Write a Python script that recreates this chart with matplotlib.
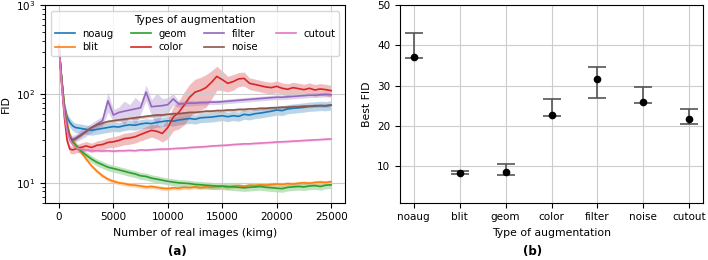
import numpy as np
import matplotlib
matplotlib.use('Agg')
import matplotlib.pyplot as plt

plt.rcParams['font.size'] = 7.5

# training progress (kimg) at which FID was evaluated
kimg = [0, 250, 500, 750, 1000, 1250, 1500, 2000, 2500, 3000, 3500, 4000, 4500,
        5000, 5500, 6000, 6500, 7000, 7500, 8000, 8500, 9000, 9500, 10000,
        10500, 11000, 11500, 12000, 12500, 13000, 13500, 14000, 14500, 15000,
        15500, 16000, 16500, 17000, 17500, 18000, 18500, 19000, 19500, 20000,
        20500, 21000, 21500, 22000, 22500, 23000, 23500, 24000, 24500, 25000]

fid_noaug = [350, 150, 75, 55, 48, 44, 42, 41, 40, 39, 40, 41, 42, 43, 42.5, 44,
             45, 44.5, 46, 47, 46.5, 48, 49, 50, 49.5, 51, 52, 53, 52, 54, 54.5,
             55, 56, 57, 55.5, 57, 56, 59, 58, 60, 61, 62.5, 64, 66, 65, 68, 69,
             70, 71, 72.5, 73, 74, 73.5, 75]
fid_blit = [350, 150, 75, 48, 35, 30, 27, 22.5, 18.5, 15.5, 13.5, 12, 11, 10.4,
            10, 9.8, 9.5, 9.4, 9.2, 9.0, 9.1, 8.9, 8.7, 8.6, 8.8, 8.7, 8.9, 8.8,
            9.0, 8.8, 9.0, 8.9, 9.0, 9.1, 8.9, 9.2, 9.3, 9.1, 9.4, 9.3, 9.5, 9.4,
            9.6, 9.7, 9.6, 9.8, 9.7, 9.9, 10.0, 9.9, 10.1, 10.2, 10.1, 10.3]
fid_geom = [350, 150, 70, 45, 33, 29, 27, 23, 20.5, 18.5, 17, 16, 15, 14.5, 14,
            13.5, 13, 12.6, 12, 11.8, 11.3, 11, 10.7, 10.4, 10.2, 10, 9.9, 9.8,
            9.6, 9.5, 9.4, 9.3, 9.2, 9.2, 9.1, 9.0, 8.9, 8.8, 8.9, 9.0, 9.1, 8.9,
            8.8, 8.7, 8.6, 8.9, 9.0, 9.1, 9.0, 9.2, 9.3, 9.1, 9.4, 9.5]
fid_color = [350, 130, 55, 30, 24, 23.5, 24, 25, 26, 25, 26.5, 27, 28.5, 29, 30,
             31.5, 32, 33, 35, 37, 39, 38, 36, 42, 55, 62, 75, 92, 105, 110, 118,
             135, 158, 145, 132, 138, 148, 150, 132, 128, 124, 120, 118, 122,
             116, 113, 118, 115, 112, 116, 111, 114, 112, 109]
fid_filter = [350, 140, 65, 42, 33, 31, 32, 35, 38, 42, 46, 50, 84, 58, 62, 64,
              66, 68, 70, 105, 72, 73, 74, 76, 88, 77, 78, 79, 79, 80, 80, 81,
              81, 82, 83, 84, 85, 86, 87, 88, 89, 90, 91, 92, 92, 93, 94, 95,
              96, 97, 97, 98, 99, 98]
fid_noise = [350, 140, 65, 42, 33, 30, 31, 34, 38, 42, 45, 47, 49, 50, 51, 52,
             53, 54, 55, 56, 57, 58, 58, 59, 60, 60, 61, 62, 62, 63, 64, 64, 65,
             65, 66, 66, 67, 67, 68, 68, 69, 69, 70, 70, 71, 71, 72, 72, 73, 73,
             74, 74, 74, 75]
fid_cutout = [350, 130, 60, 38, 30, 27, 25, 24, 23.5, 23, 23, 22.8, 23, 22.7,
              23, 23, 23.2, 23, 23.5, 23.3, 23.6, 23.8, 24, 24, 24.3, 24.5, 24.6,
              25, 25.2, 25.4, 25.6, 26, 26.2, 26.4, 26.6, 27, 27.2, 27.5, 27.5,
              27.8, 28, 28.3, 28.5, 28.8, 29, 29.2, 29.5, 29.7, 30, 30.2, 30.5,
              30.7, 31, 31.2]

# relative spread of the shaded band (std over runs)
spread_color = [0.1, 0.1, 0.1, 0.1, 0.1, 0.1, 0.1, 0.12, 0.12, 0.12,
                0.12, 0.13, 0.13, 0.14, 0.14, 0.15, 0.15, 0.15, 0.15, 0.16, 0.16,
                0.18, 0.2, 0.25, 0.3, 0.35, 0.4, 0.4, 0.4, 0.4, 0.4, 0.35, 0.3,
                0.25, 0.2, 0.2, 0.18, 0.18, 0.15, 0.15, 0.15, 0.15, 0.15, 0.15,
                0.15, 0.15, 0.15, 0.15, 0.15, 0.15, 0.15, 0.15, 0.15, 0.15]
spread_filter = [0.1, 0.1, 0.1, 0.1, 0.1, 0.1, 0.1, 0.12, 0.12, 0.12, 0.12, 0.12,
                 0.25, 0.15, 0.15, 0.3, 0.15, 0.35, 0.15, 0.2, 0.2, 0.4, 0.2, 0.2,
                 0.15, 0.08, 0.07, 0.07, 0.06, 0.06, 0.06, 0.06, 0.06, 0.06, 0.06,
                 0.06, 0.06, 0.06, 0.06, 0.06, 0.06, 0.06, 0.06, 0.06, 0.06, 0.06,
                 0.06, 0.06, 0.06, 0.06, 0.06, 0.06, 0.06, 0.06]
spread_noaug = 0.12
spread_blit = 0.05
spread_geom = 0.09
spread_noise = 0.04
spread_cutout = 0.03

# best FID per augmentation (mean, lower and upper error)
aug_types = ['noaug', 'blit', 'geom', 'color', 'filter', 'noise', 'cutout']
best_fid = [37.2, 8.35, 8.6, 22.75, 31.7, 25.9, 21.7]
best_low = [37.0, 8.1, 7.9, 22.4, 26.9, 25.7, 20.5]
best_high = [43.1, 8.9, 10.6, 26.6, 34.6, 29.7, 24.2]

curves = [fid_noaug, fid_blit, fid_geom, fid_color, fid_filter, fid_noise, fid_cutout]
spreads = [spread_noaug, spread_blit, spread_geom, spread_color, spread_filter,
           spread_noise, spread_cutout]

fig = plt.figure(figsize=(7.08, 2.6), dpi=100)
ax1 = fig.add_axes([0.064, 0.221, 0.423, 0.759])
ax2 = fig.add_axes([0.565, 0.221, 0.428, 0.759])

x = np.array(kimg)
for i, (name, y, s) in enumerate(zip(aug_types, curves, spreads)):
    y = np.array(y)
    s = np.array(s)
    c = 'C%d' % i
    ax1.fill_between(x, y * (1 - s), y * (1 + s), color=c, alpha=0.3, lw=0)
    ax1.plot(x, y, color=c, lw=1.2, label=name)

ax1.set_yscale('log')
ax1.set_ylim(6, 1000)
ax1.set_xticks([0, 5000, 10000, 15000, 20000, 25000])
ax1.grid(True, which='major', color='#cccccc', lw=0.8)
ax1.set_xlabel('Number of real images (kimg)', fontsize=7.8)
ax1.set_ylabel('FID', fontsize=7.8)
ax1.legend(title='Types of augmentation', ncol=4, loc='upper center',
           fontsize=7.2, title_fontsize=7.6, borderaxespad=0.6,
           handlelength=2.0, handletextpad=0.7, columnspacing=1.8,
           labelspacing=0.35)

pos = np.arange(len(aug_types))
mean = np.array(best_fid)
yerr = [mean - np.array(best_low), np.array(best_high) - mean]
ax2.errorbar(pos, mean, yerr=yerr, fmt='o', color='k', ms=4.5,
             ecolor='#555555', elinewidth=1.2, capsize=6.5, capthick=1.2)
ax2.set_xticks(pos)
ax2.set_xticklabels(aug_types)
ax2.set_ylim(1, 50)
ax2.set_yticks([10, 20, 30, 40, 50])
ax2.grid(True, color='#cccccc', lw=0.8)
ax2.set_axisbelow(True)
ax2.set_xlabel('Type of augmentation', fontsize=7.8)
ax2.set_ylabel('Best FID', fontsize=7.8)

fig.text(0.25, 0.033, '(a)', ha='center', va='center', fontweight='bold', fontsize=8.5)
fig.text(0.752, 0.033, '(b)', ha='center', va='center', fontweight='bold', fontsize=8.5)

fig.savefig('out.png', dpi=100)
